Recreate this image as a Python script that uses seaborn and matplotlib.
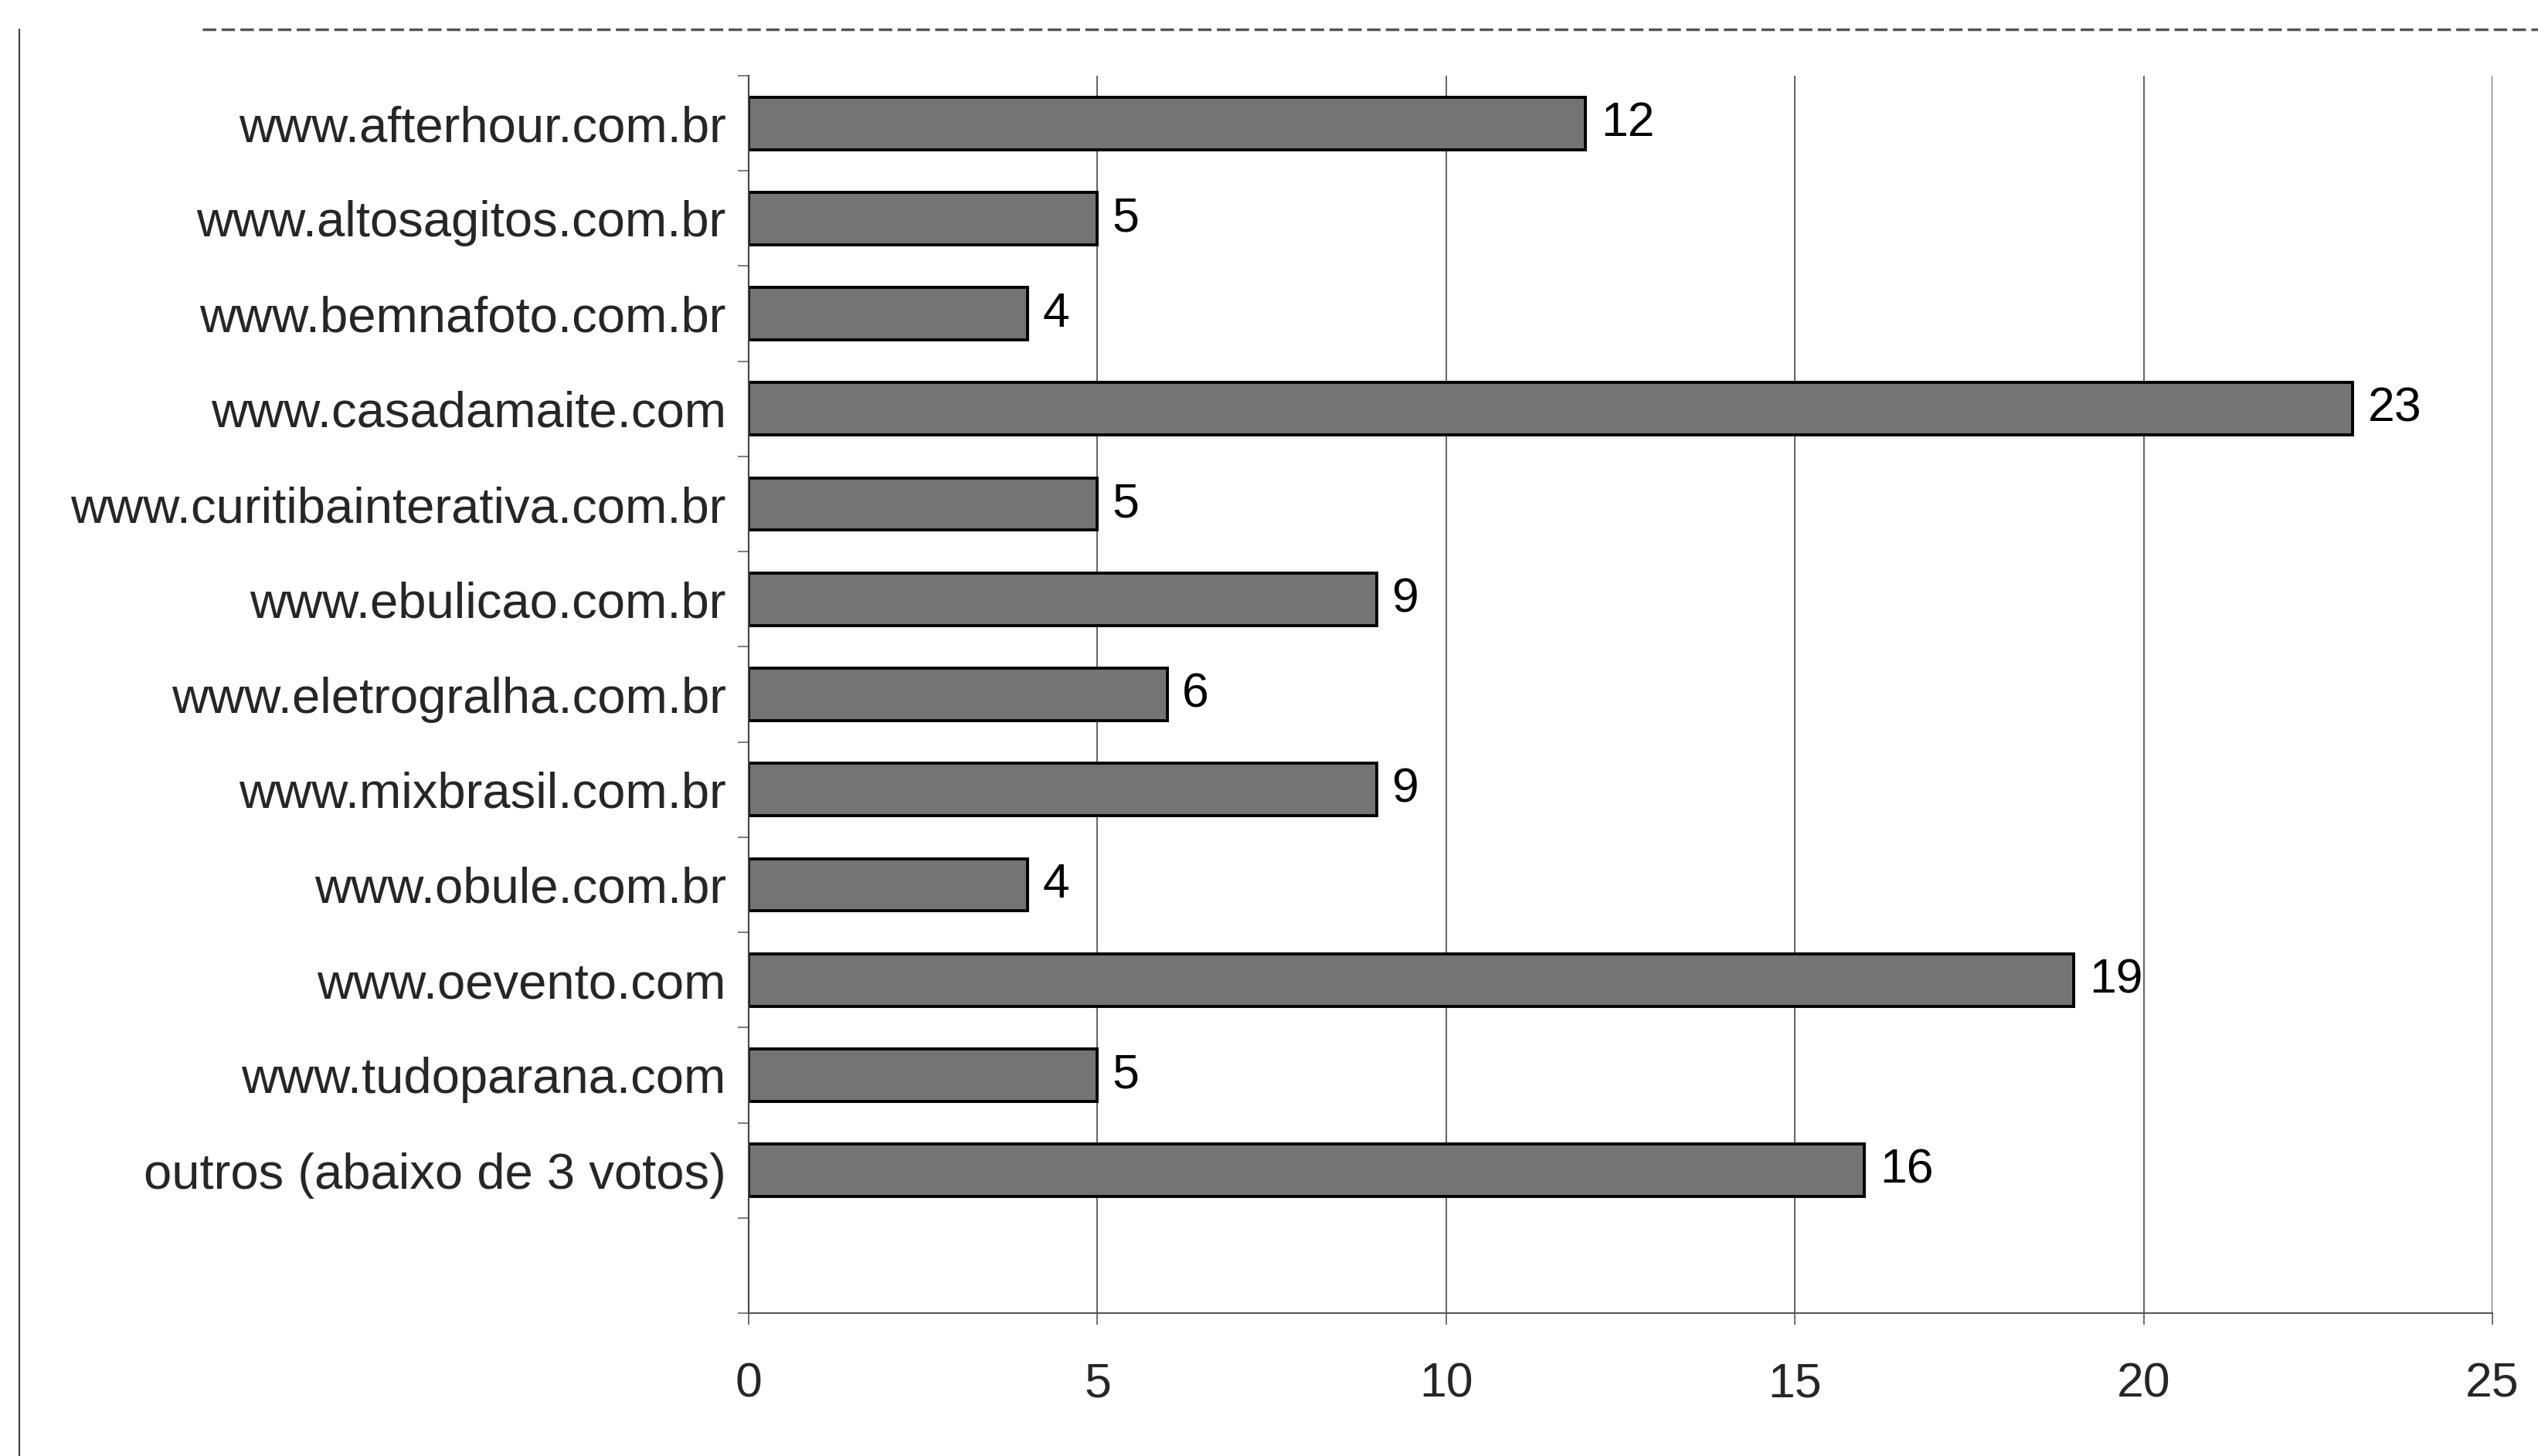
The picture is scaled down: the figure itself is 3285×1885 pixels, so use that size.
import matplotlib
matplotlib.use("Agg")
import matplotlib.pyplot as plt
from matplotlib.lines import Line2D
from matplotlib.ticker import FixedLocator
import seaborn as sns
import pandas as pd

sites = [
    "www.afterhour.com.br",
    "www.altosagitos.com.br",
    "www.bemnafoto.com.br",
    "www.casadamaite.com",
    "www.curitibainterativa.com.br",
    "www.ebulicao.com.br",
    "www.eletrogralha.com.br",
    "www.mixbrasil.com.br",
    "www.obule.com.br",
    "www.oevento.com",
    "www.tudoparana.com",
    "outros (abaixo de 3 votos)",
]
votos = [12, 5, 4, 23, 5, 9, 6, 9, 4, 19, 5, 16]
x_ticks = [0, 5, 10, 15, 20, 25]

df = pd.DataFrame({"site": sites, "votos": votos})

sns.set_style("white")
plt.rcParams["font.family"] = ["Liberation Sans", "DejaVu Sans"]

W, H = 3285, 1885
fig = plt.figure(figsize=(W / 100, H / 100), dpi=100)
ax = fig.add_axes([969 / W, 1 - 1700 / H, (3226 - 969) / W, (1700 - 98) / H])

sns.barplot(data=df, x="votos", y="site", orient="h", color="#747474",
            saturation=1, edgecolor="black", linewidth=2.8, width=0.55, ax=ax)

ax.set_xlim(0, 25)
ax.set_ylim(len(sites) + 0.5, -0.5)
ax.set_xlabel("")
ax.set_ylabel("")

ax.xaxis.set_major_locator(FixedLocator(x_ticks))
ax.set_xticklabels([str(t) for t in x_ticks])
ax.grid(axis="x", color="#555555", linewidth=1.3)
ax.grid(axis="y", visible=False)
ax.set_axisbelow(True)

ax.tick_params(axis="x", which="major", direction="out", length=11, width=1.2,
               color="#555555", labelsize=45, pad=34, bottom=True)
ax.tick_params(axis="y", which="major", length=0, labelsize=47, pad=21)
ax.yaxis.set_minor_locator(FixedLocator([k - 0.5 for k in range(len(sites) + 2)]))
ax.tick_params(axis="y", which="minor", direction="out", length=10, width=1.2,
               color="#666666", left=True)

for s in ["top", "right"]:
    ax.spines[s].set_visible(False)
ax.spines["left"].set_color("#444444")
ax.spines["left"].set_linewidth(1.5)
ax.spines["bottom"].set_color("#555555")
ax.spines["bottom"].set_linewidth(1.5)

for container in ax.containers:
    ax.bar_label(container, labels=[str(v) for v in votos], padding=14,
                 fontsize=45, color="black")

# chart-area frame remnants of the scanned original
fig.add_artist(Line2D([25 / W, 25 / W], [0, 1 - 38 / H], transform=fig.transFigure,
                      color="#444444", linewidth=1.6))
fig.add_artist(Line2D([262 / W, 1], [1 - 38 / H, 1 - 38 / H], transform=fig.transFigure,
                      color="#555555", linewidth=2.5, linestyle=(0, (5, 2))))

fig.savefig("out.png", dpi=100, facecolor="white")
